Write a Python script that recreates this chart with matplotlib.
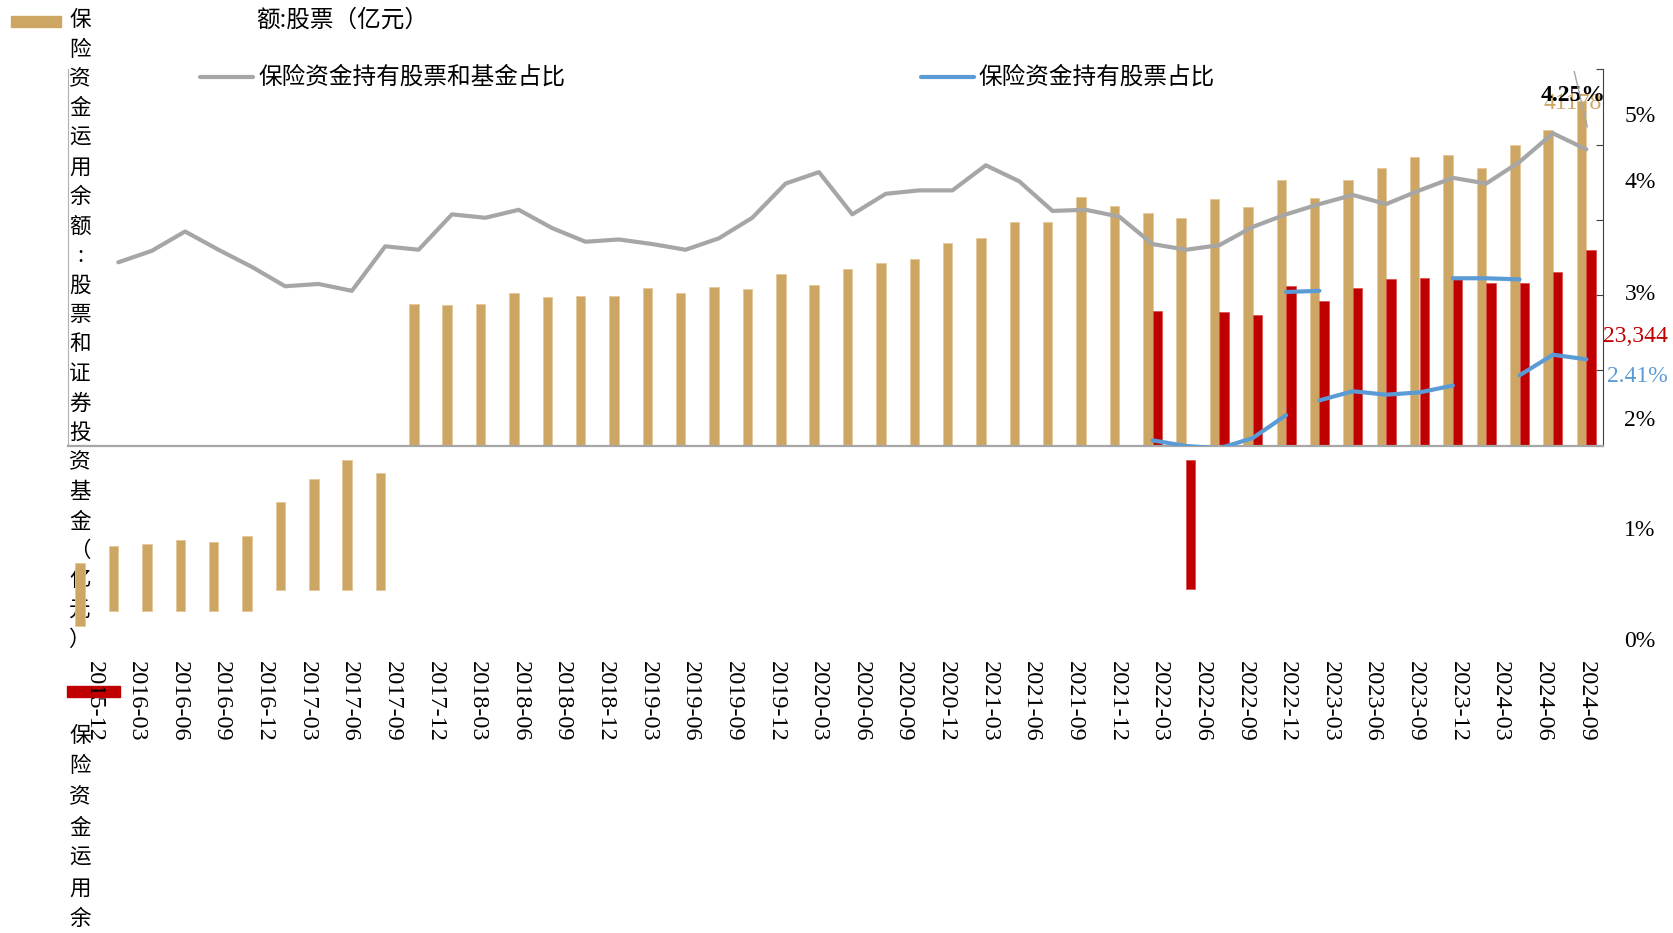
import matplotlib
matplotlib.use("Agg")
import matplotlib.pyplot as plt
import numpy as np
from matplotlib.patches import Rectangle
from matplotlib.lines import Line2D

# --- fonts / colours ---
CJK = ["Noto Sans CJK SC", "DejaVu Sans"]
SERIF = ["Liberation Serif", "DejaVu Serif"]
GOLD = "#CDA664"
RED = "#C00000"
GREY = "#A6A6A6"
BLUE = "#5B9BD5"

# --- data ---
quarters = ["2015-12", "2016-03", "2016-06", "2016-09", "2016-12", "2017-03",
            "2017-06", "2017-09", "2017-12", "2018-03", "2018-06", "2018-09",
            "2018-12", "2019-03", "2019-06", "2019-09", "2019-12", "2020-03",
            "2020-06", "2020-09", "2020-12", "2021-03", "2021-06", "2021-09",
            "2021-12", "2022-03", "2022-06", "2022-09", "2022-12", "2023-03",
            "2023-06", "2023-09", "2023-12", "2024-03", "2024-06", "2024-09"]

# 保险资金运用余额:股票和证券投资基金 (亿元), 46 bars
gold_vals = [7570, 7770, 8010, 8570, 8250, 8970, 10520, 13270, 15540, 13990,
             16900, 16790, 16900, 18220, 17740, 17900, 17860, 18820, 18290, 18970,
             18770, 20560, 19210, 21090, 21840, 22320, 24290, 24870, 26780, 26710,
             29770, 28620, 27780, 27260, 29460, 28500, 31760, 29650, 31760, 33240,
             34550, 34750, 33240, 35950, 37740, 41178]
gold_base = [-21550, -19800, -19800, -19800, -19800, -19800,
             -17250, -17250, -17250, -17250] + [0] * 36

# 保险资金运用余额:股票 (亿元), from bar 32 on
red_start = 32
red_vals = [16070, 15460, 15950, 15590, 19130, 17300, 18820, 19930,
            20010, 19890, 19420, 19490, 20800, 23344]
red_base = [0, -17170] + [0] * 12

# 保险资金持有股票和基金占比 (%), from bar 1 on
gray_start = 1
gray_pct = [3.26, 3.36, 3.53, 3.37, 3.22, 3.05, 3.07, 3.01, 3.40, 3.37,
            3.68, 3.65, 3.72, 3.56, 3.44, 3.46, 3.42, 3.37, 3.47, 3.65,
            3.95, 4.05, 3.68, 3.86, 3.89, 3.89, 4.11, 3.97, 3.71, 3.72,
            3.66, 3.42, 3.37, 3.41, 3.57, 3.68, 3.77, 3.85, 3.77, 3.89,
            4.00, 3.95, 4.14, 4.39, 4.25]

# 保险资金持有股票占比 (%), broken segments: (start bar, values)
blue_segments = [(32, [1.70, 1.65, 1.63, 1.72, 1.92]),
                 (36, [3.00, 3.01]),
                 (37, [2.05, 2.13, 2.10, 2.12, 2.18]),
                 (41, [3.12, 3.12, 3.11]),
                 (43, [2.27, 2.45, 2.41])]

right_labels = ["0%", "1%", "2%", "3%", "4%", "5%"]

# --- figure in pixel terms ---
W, H = 1673, 933
fig = plt.figure(figsize=(W / 100, H / 100), dpi=100)


def fx(px):
    return px / W


def fy(py):
    return 1 - py / H


L, R, T, B = 68.3, 1603, 69.3, 445.7
ax = fig.add_axes([fx(L), fy(B), fx(R) - fx(L), fy(T) - fy(B)])
ax.patch.set_visible(False)
ax.set_xlim(-0.5, 45.5)
ax.set_ylim(0, 45000)

k = np.arange(len(gold_vals))
ax.bar(k - 0.143, gold_vals, width=0.285, bottom=gold_base, color=GOLD,
       edgecolor="#E3C898", linewidth=0.6, clip_on=False, zorder=2)
rk = np.arange(red_start, red_start + len(red_vals))
ax.bar(rk + 0.143, red_vals, width=0.285, bottom=red_base, color=RED,
       edgecolor="#D84A4A", linewidth=0.5, clip_on=False, zorder=2)

ax2 = ax.twinx()
ax2.patch.set_visible(False)
ax2.set_ylim(1.653, 4.951)
gk = np.arange(gray_start, gray_start + len(gray_pct))
ax2.plot(gk, gray_pct, color=GREY, lw=3.0, solid_capstyle="round",
         solid_joinstyle="round", zorder=3)
for s, seg in blue_segments:
    ax2.plot(np.arange(s, s + len(seg)), seg, color=BLUE, lw=3.0,
             solid_capstyle="round", solid_joinstyle="round", zorder=4)
ax2.set_yticks([])
for sp in ax2.spines.values():
    sp.set_visible(False)

# spines / ticks
ax.spines["top"].set_visible(False)
ax.spines["left"].set_color("#B0B0B0")
ax.spines["left"].set_linewidth(0.8)
ax.spines["bottom"].set_color(GREY)
ax.spines["bottom"].set_linewidth(1.6)
ax.spines["right"].set_color("#404040")
ax.spines["right"].set_linewidth(0.8)
ax.set_xticks([])
ax.yaxis.set_ticks_position("right")
ax.set_yticks(np.arange(0, 45001, 9000))
ax.tick_params(axis="y", direction="in", length=5, width=0.8,
               color="#404040", labelright=False, labelleft=False)

# data labels
fig.add_artist(Line2D([fx(1574.3), fx(1587.3)], [fy(71.7), fy(126.7)],
                      color=GREY, lw=1.0, zorder=1))
ax.annotate(f"{gold_vals[-1]:.0f}", (k[-1] - 0.143, gold_vals[-1]),
            xytext=(-9, -2), textcoords="offset pixels", ha="center",
            va="center", fontsize=17, family=SERIF, color=GOLD, zorder=5,
            annotation_clip=False)
ax2.annotate(f"{gray_pct[-1]:.2f}%", (gk[-1], gray_pct[-1]),
             xytext=(-13, 54), textcoords="offset pixels", ha="center",
             va="center", fontsize=17, family=SERIF, fontweight="bold",
             color="black", zorder=6, annotation_clip=False)
ax.annotate(f"{red_vals[-1]:,.0f}", (rk[-1] + 0.143, red_vals[-1]),
            xytext=(44, -86), textcoords="offset pixels", ha="center",
            va="center", fontsize=17, family=SERIF, color=RED,
            annotation_clip=False)
last_blue = blue_segments[-1]
ax2.annotate(f"{last_blue[1][-1]:.2f}%",
             (last_blue[0] + len(last_blue[1]) - 1, last_blue[1][-1]),
             xytext=(51, -17), textcoords="offset pixels", ha="center",
             va="center", fontsize=17, family=SERIF, color=BLUE,
             annotation_clip=False)

# misplaced right-hand percentage labels
for lab, py in zip(right_labels, [641.7, 531, 420, 295, 183, 116.7]):
    fig.text(fx(1640), fy(py), lab, ha="center", va="center",
             fontsize=17, family=SERIF)

# category labels (own axis, spread over 36 slots)
lab_ax = fig.add_axes([fx(L), fy(661), fx(R) - fx(L), 0.0005], zorder=5)
lab_ax.set_xlim(-0.6, 35.4)
lab_ax.set_xticks(range(len(quarters)))
lab_ax.set_xticklabels(quarters, rotation=270, fontsize=17.5, family=SERIF)
lab_ax.tick_params(axis="x", length=0, pad=0)
lab_ax.set_yticks([])
lab_ax.patch.set_visible(False)
for sp in lab_ax.spines.values():
    sp.set_visible(False)

# --- legend (as rendered, wrapped) ---
fig.add_artist(Rectangle((fx(10.7), fy(27)), fx(60.8) - fx(10.7), fy(16) - fy(27),
                         transform=fig.transFigure, color=GOLD, zorder=1))
name1 = "保险资金运用余额:股票和证券投资基金（亿元）"
for i, ch in enumerate(name1):
    fig.text(fx(80), fy(20 + 29.5 * i), ch, ha="center", va="center",
             fontsize=15.5, family=CJK, zorder=-1)
fig.text(fx(256), fy(20), "额:股票（亿元）", ha="left", va="center",
         fontsize=17, family=CJK)

fig.add_artist(Rectangle((fx(67), fy(697)), fx(119.5) - fx(67), fy(686) - fy(697),
                         transform=fig.transFigure, color=RED, zorder=1))
for i, ch in enumerate("保险资金运用余"):
    fig.text(fx(80), fy(736 + 30.5 * i), ch, ha="center", va="center",
             fontsize=15.5, family=CJK)

fig.add_artist(Line2D([fx(199.5), fx(253)], [fy(76.8), fy(76.8)],
                      color=GREY, lw=3.0, solid_capstyle="round"))
fig.text(fx(258), fy(76.8), "保险资金持有股票和基金占比", ha="left",
         va="center", fontsize=17, family=CJK)
fig.add_artist(Line2D([fx(921), fx(974)], [fy(76.8), fy(76.8)],
                      color=BLUE, lw=3.0, solid_capstyle="round"))
fig.text(fx(978), fy(76.8), "保险资金持有股票占比", ha="left",
         va="center", fontsize=17, family=CJK)

fig.savefig("out.png", dpi=100)
